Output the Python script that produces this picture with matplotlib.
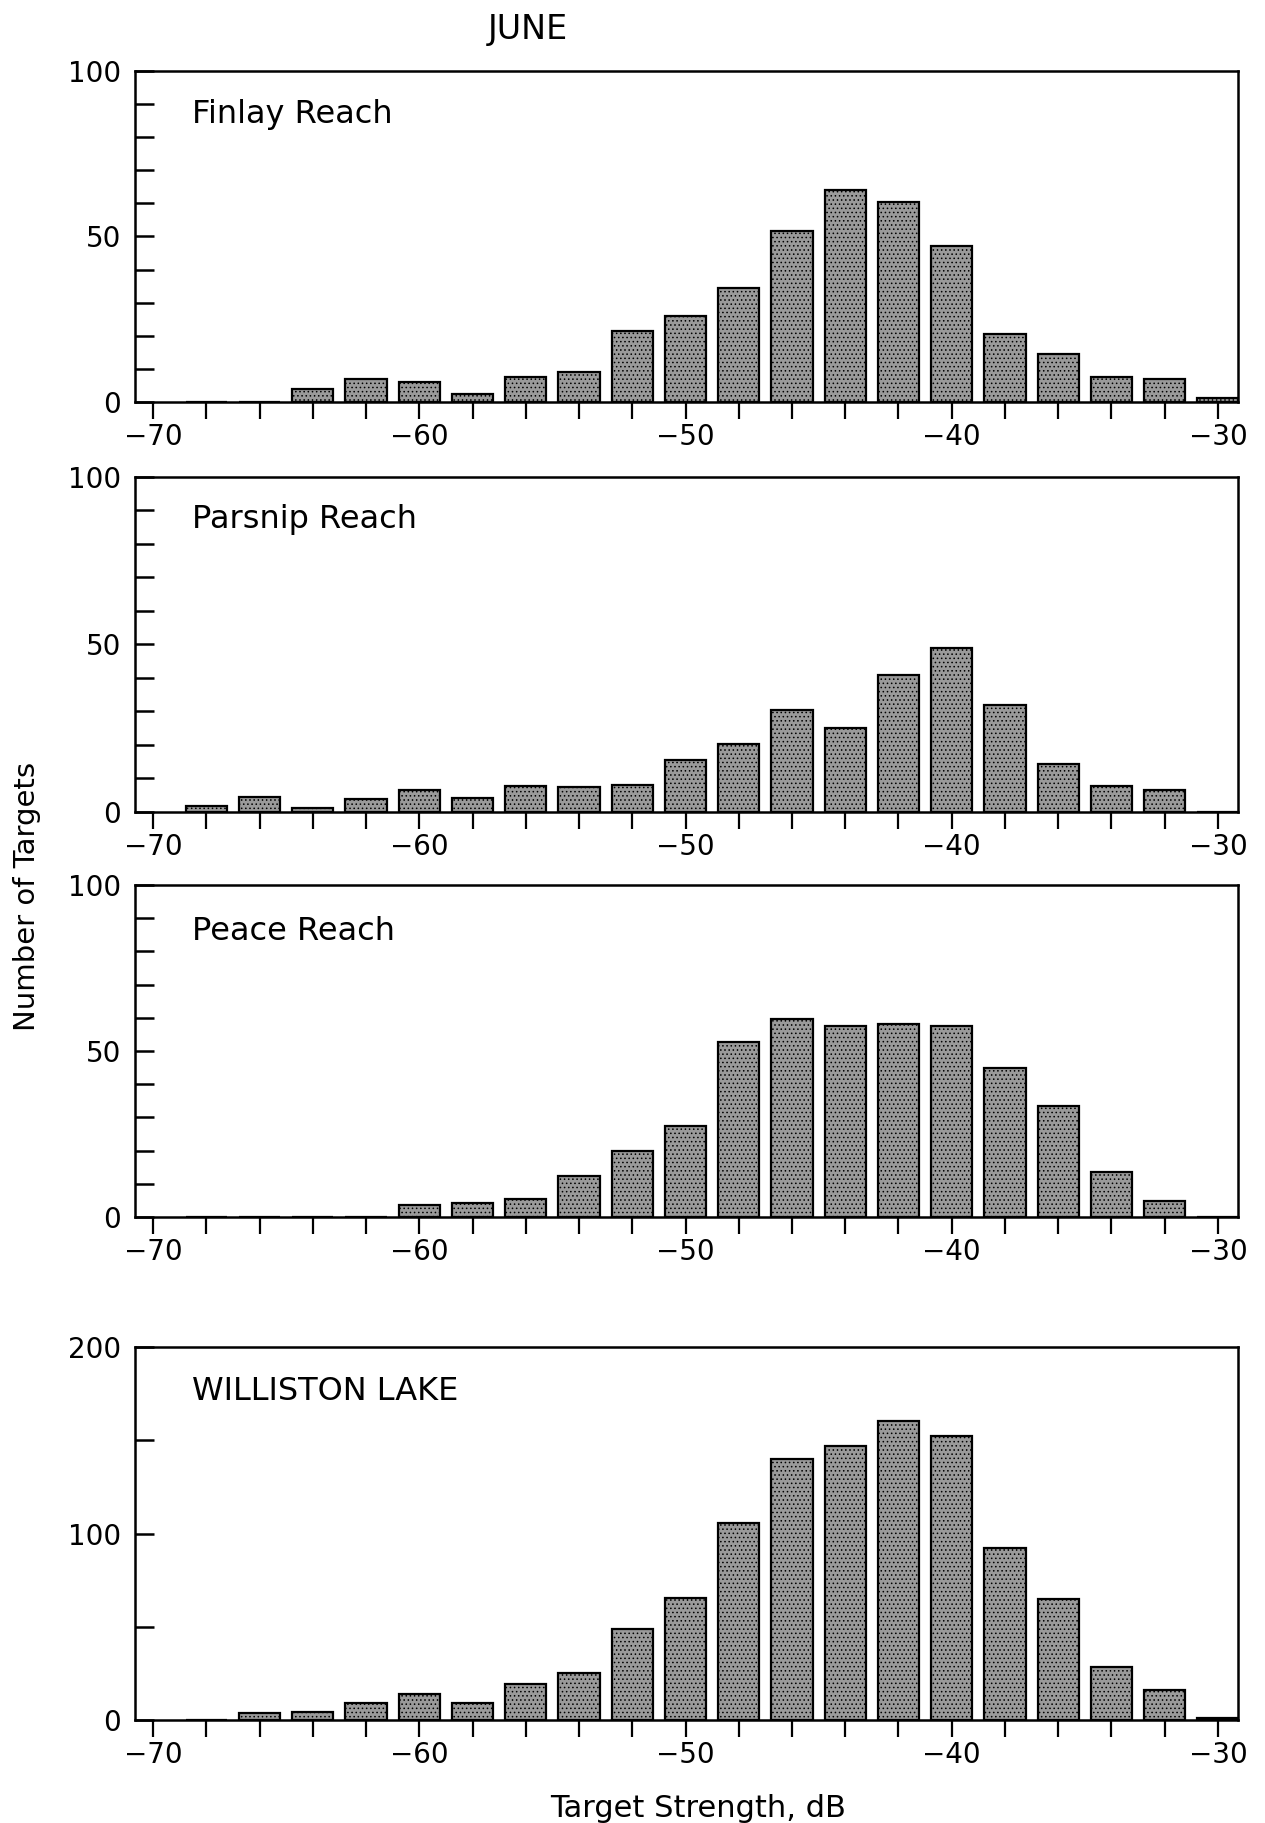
import matplotlib.pyplot as plt
from matplotlib.ticker import MultipleLocator

plt.rcParams['font.family'] = ['DejaVu Sans']
plt.rcParams['hatch.linewidth'] = 0.6

# 2 dB bins, centres
bins = [-68, -66, -64, -62, -60, -58, -56, -54, -52, -50,
        -48, -46, -44, -42, -40, -38, -36, -34, -32, -30]

finlay = [0, 0, 4, 7, 6, 2.3, 7.5, 9, 21.5, 26,
          34.5, 51.5, 64, 60.5, 47, 20.5, 14.5, 7.5, 7, 1.3]
parsnip = [1.8, 4.5, 1.1, 3.8, 6.7, 4.3, 7.7, 7.5, 8, 15.4,
           20.3, 30.5, 25, 41, 49, 31.8, 14.4, 7.7, 6.7, 0]
peace = [0, 0, 0, 0, 3.5, 4.2, 5.5, 12.3, 20, 27.4,
         52.8, 59.8, 57.4, 58.1, 57.4, 44.8, 33.4, 13.7, 4.7, 0]
williston = [0, 3.9, 4.3, 9.3, 13.8, 9, 19.5, 25.4, 48.7, 65.4,
             105.5, 139.7, 146.8, 160.1, 152.5, 92, 64.8, 28.5, 15.9, 0.9]

panels = [
    ("Finlay Reach", finlay, 100, 50, 10, 0.843),
    ("Parsnip Reach", parsnip, 100, 50, 10, 0.848),
    ("Peace Reach", peace, 100, 50, 10, 0.834),
    ("WILLISTON LAKE", williston, 200, 100, 50, 0.858),
]

# axes boxes in figure fractions (left, bottom, width, height)
boxes = [
    (0.1067, 0.7795, 0.8719, 0.1816),
    (0.1067, 0.5546, 0.8719, 0.1838),
    (0.1067, 0.3324, 0.8719, 0.1821),
    (0.1067, 0.0565, 0.8719, 0.2046),
]

fig = plt.figure(figsize=(12.65, 18.23), dpi=100)

for (name, counts, ymax, ymaj, ymin, ty), box in zip(panels, boxes):
    ax = fig.add_axes(box)
    ax.bar(bins, counts, width=1.55, color='#9a9a9a', edgecolor='black',
           linewidth=1.6, hatch='....', zorder=2)
    ax.set_xlim(-70.68, -29.25)
    ax.set_ylim(0, ymax)
    ax.xaxis.set_major_locator(MultipleLocator(10))
    ax.xaxis.set_minor_locator(MultipleLocator(2))
    ax.yaxis.set_major_locator(MultipleLocator(ymaj))
    ax.yaxis.set_minor_locator(MultipleLocator(ymin))
    ax.tick_params(axis='x', which='both', direction='out', length=12,
                   width=1.6, labelsize=20, pad=3)
    ax.tick_params(axis='y', which='both', direction='in', length=14,
                   width=1.8, labelsize=20, pad=10)
    for s in ax.spines.values():
        s.set_linewidth(1.8)
    ax.text(0.052, ty, name, transform=ax.transAxes, fontsize=23,
            va='baseline', ha='left')

fig.text(0.417, 0.984, "JUNE", fontsize=24, ha='center', va='center')
fig.text(0.552, 0.008, "Target Strength, dB", fontsize=22,
         ha='center', va='center')
fig.text(0.021, 0.508, "Number of Targets", fontsize=21, rotation=90,
         ha='center', va='center')

fig.savefig("out.png", dpi=100)
